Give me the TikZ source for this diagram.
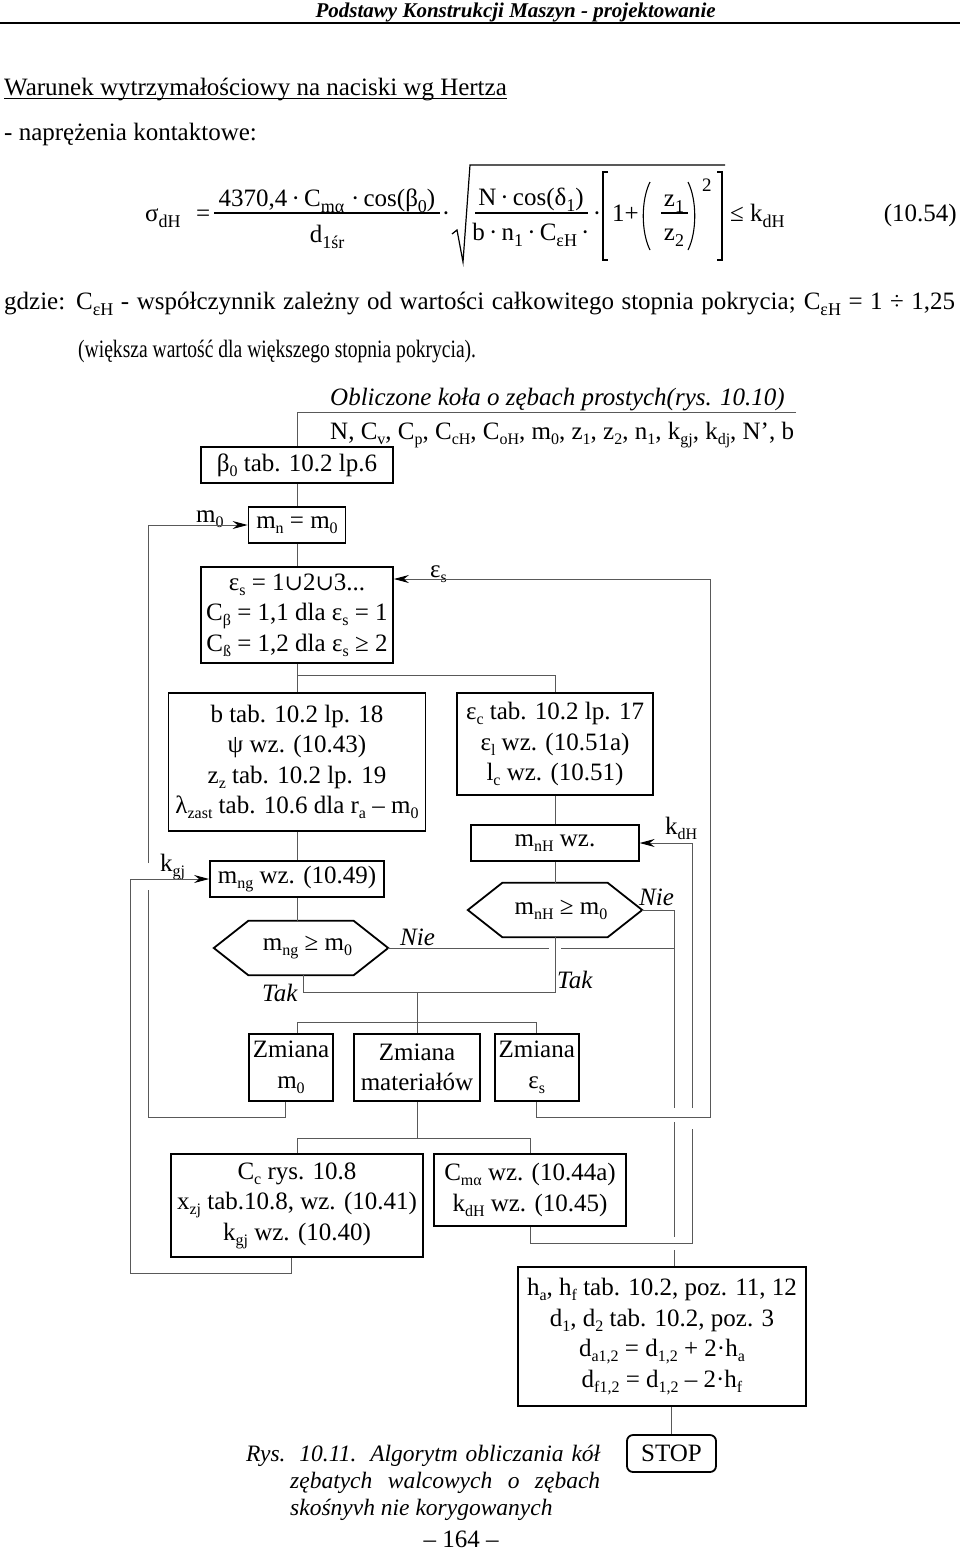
\documentclass[tikz,border=0pt]{standalone}
\usepackage{fontspec}
\setmainfont{Liberation Serif}
\newfontfamily\djv{DejaVu Serif}
\usetikzlibrary{arrows.meta,calc}
\newcommand\sbs[1]{\raisebox{-0.2em}{\fontsize{16}{16}\selectfont #1}}
\newcommand\fsb[1]{\raisebox{-0.25em}{\fontsize{18}{18}\selectfont #1}}
\newcommand\cupsym{{\djv\fontsize{22}{22}\selectfont ∪}}
\begin{document}
\begin{tikzpicture}[x=1pt,y=-1pt,
  every node/.style={inner sep=0pt, font=\fontsize{25}{30.5}\selectfont},
  box/.style={draw, line width=1.8pt, align=center},
  hexshape/.style={minimum width=174pt, minimum height=54pt, align=center},
  conn/.style={line width=1pt, draw=black!65},
  arr/.style={conn, -{Stealth[length=15pt,width=8pt,inset=5pt,color=black]}},
  hexline/.style={line width=1.8pt},
  lbl/.style={anchor=base west, font=\fontsize{25}{30.5}\selectfont\itshape},
  captxt/.style={anchor=base west, font=\fontsize{23.5}{28}\selectfont\itshape}]
\useasboundingbox (0,0) rectangle (960,1553);

% ---------- header ----------
\node[anchor=base east, font=\fontsize{21}{25}\selectfont\bfseries\itshape] (hdr) at (716,17) {Podstawy Konstrukcji Maszyn - projektowanie};
\draw[line width=1.6pt] (0,23) -- (960,23);
\node[anchor=base west] (war) at (4,95) {Warunek wytrzymałościowy na naciski wg Hertza};
\draw[line width=1.3pt] ([yshift=-3.5pt]war.base west) -- ([yshift=-3.5pt]war.base east);
\node[anchor=base west] (nap) at (4,140) {- naprężenia kontaktowe:};

% ---------- formula ----------
\node[anchor=base west] (sig) at (145,221) {σ\fsb{dH}};
\node[anchor=base west] (eq) at (196,221) {=};
\draw[line width=1.1pt] (214,213) -- (440,213);
\node[anchor=base] (num) at (327,206) {4370,4\,·\,C\fsb{mα}\;·\,cos(β\fsb{0})};
\node[anchor=base] (den) at (327,242) {d\fsb{1śr}};
\node[anchor=base] (dot1) at (446,221) {·};
\draw[line width=1.2pt] (452,234) -- (457,230) -- (463,262) -- (470,165) -- (725,165);
\draw[line width=1.1pt] (475,213) -- (588,213);
\node[anchor=base] (inum) at (531,205) {N\,·\,cos(δ\fsb{1})};
\node[anchor=base] (iden) at (531,240) {b\,·\,n\fsb{1}\,·\,C\fsb{εH}\,·};
\node[anchor=base] (dot2) at (597,221) {·};
\draw[line width=1.2pt] (608,172) -- (603,172) -- (603,260) -- (608,260);
\draw[line width=1.2pt] (717,172) -- (722,172) -- (722,260) -- (717,260);
\node[anchor=base west] (onep) at (612,221) {1+};
\draw[line width=1.1pt] (650,182) .. controls (641,200) and (641,232) .. (650,250);
\draw[line width=1.1pt] (688,182) .. controls (697,200) and (697,232) .. (688,250);
\draw[line width=1.1pt] (661,213) -- (688,213);
\node[anchor=base] (za) at (674,206) {z\fsb{1}};
\node[anchor=base] (zb) at (674,240) {z\fsb{2}};
\node[anchor=base west, font=\fontsize{19}{19}\selectfont] (sq) at (702,191) {2};
\node[anchor=base west] (le) at (730,221) {≤ k\fsb{dH}};
\node[anchor=base east] (eqn) at (957,221) {(10.54)};

\node[anchor=base west] (gdz) at (4,309) {\makebox[951pt][s]{gdzie: C\fsb{εH} - współczynnik zależny od wartości całkowitego stopnia pokrycia; C\fsb{εH} = 1 ÷ 1,25}};
\node[anchor=base west] (wie) at (78,357) {\scalebox{0.783}[1]{(większa wartość dla większego stopnia pokrycia).}};

% ---------- flowchart ----------
\node[anchor=base west, font=\fontsize{25}{30.5}\selectfont\itshape] (obl) at (330,405) {Obliczone koła o zębach prostych(rys. 10.10)};
\coordinate (topR) at (796,412);
\node[anchor=base west] (dane) at (330,439) {N, C\sbs{v}, C\sbs{p}, C\sbs{cH}, C\sbs{oH}, m\sbs{0}, z\sbs{1}, z\sbs{2}, n\sbs{1}, k\sbs{gj}, k\sbs{dj}, N’, b};

\node[box, minimum width=191.5pt, minimum height=36pt] (beta) at (297,465) {β\sbs{0} tab. 10.2 lp.6};
\node[box, minimum width=97pt, minimum height=36pt] (mn) at (297,525) {m\sbs{n} = m\sbs{0}};
\node[box, minimum width=192pt, minimum height=96pt] (eps) at (297,615) {ε\sbs{s} = 1\cupsym2\cupsym3...\\C\sbs{β} = 1,1 dla ε\sbs{s} = 1\\C\sbs{ß} = 1,2 dla ε\sbs{s} ≥ 2};
\node[box, minimum width=257pt, minimum height=138pt] (lbox) at (297,762) {b tab. 10.2 lp. 18\\ψ wz. (10.43)\\z\sbs{z} tab. 10.2 lp. 19\\λ\sbs{zast} tab. 10.6 dla r\sbs{a} – m\sbs{0}};
\node[box, minimum width=195.5pt, minimum height=102pt] (rbox) at (555,744) {ε\sbs{c} tab. 10.2 lp. 17\\ε\sbs{l} wz. (10.51a)\\l\sbs{c} wz. (10.51)};
\node[box, minimum width=174pt, minimum height=36pt] (mng) at (297,879) {m\sbs{ng} wz. (10.49)};
\node[hexshape] (hexg) at (301,948) {\hspace*{13pt}m\sbs{ng} ≥ m\sbs{0}};
\draw[hexline] (hexg.west) -- ([xshift=34.5pt]hexg.north west) -- ([xshift=-34.5pt]hexg.north east) -- (hexg.east) -- ([xshift=-34.5pt]hexg.south east) -- ([xshift=34.5pt]hexg.south west) -- cycle;
\node[box, minimum width=167.5pt, minimum height=36pt] (mnh) at (555,843) {m\sbs{nH} wz.};
\node[hexshape] (hexh) at (555,910) {\hspace*{12pt}m\sbs{nH} ≥ m\sbs{0}};
\draw[hexline] (hexh.west) -- ([xshift=34.5pt]hexh.north west) -- ([xshift=-34.5pt]hexh.north east) -- (hexh.east) -- ([xshift=-34.5pt]hexh.south east) -- ([xshift=34.5pt]hexh.south west) -- cycle;

\node[box, minimum width=84pt, minimum height=67pt] (z1) at (291,1067.5) {Zmiana\\m\sbs{0}};
\node[box, minimum width=126pt, minimum height=67pt] (z2) at (417,1067.5) {Zmiana\\materiałów};
\node[box, minimum width=84pt, minimum height=67pt] (z3) at (536.7,1067.5) {Zmiana\\ε\sbs{s}};
\node[box, minimum width=252pt, minimum height=103pt] (cc) at (297,1205.5) {C\sbs{c} rys. 10.8\\x\sbs{zj} tab.10.8, wz. (10.41)\\k\sbs{gj} wz. (10.40)};
\node[box, minimum width=191.5pt, minimum height=72pt] (cm) at (530,1190) {C\sbs{mα} wz. (10.44a)\\k\sbs{dH} wz. (10.45)};
\node[box, minimum width=288pt, minimum height=139pt] (ha) at (662,1336.5) {h\sbs{a}, h\sbs{f} tab. 10.2, poz. 11, 12\\d\sbs{1}, d\sbs{2} tab. 10.2, poz. 3\\d\sbs{a1,2} = d\sbs{1,2} + 2·h\sbs{a}\\d\sbs{f1,2} = d\sbs{1,2} – 2·h\sbs{f}};
\node[box, rounded corners=6pt, minimum width=89pt, minimum height=37pt] (stop) at (671.5,1453.5) {STOP};

% labels
\node[anchor=base west] (lm0) at (196,522) {m\sbs{0}};
\node[anchor=base west] (les) at (430,577) {ε\sbs{s}};
\node[anchor=base west] (lkg) at (160,871) {k\sbs{gj}};
\node[anchor=base west] (lkd) at (665,834) {k\sbs{dH}};
\node[lbl] (nie1) at (400,945) {Nie};
\node[lbl] (nie2) at (639,905) {Nie};
\node[lbl] (tak1) at (262,1001) {Tak};
\node[lbl] (tak2) at (557,988) {Tak};

% coordinates
\coordinate (tj) at (417,992);
\coordinate (zs) at (417,1022);
\coordinate (cj) at (417,1139);
\coordinate (L1) at (148,1117);
\coordinate (gapA) at (148,890);
\coordinate (gapB) at (148,863);
\coordinate (K1) at (130,1273);
\coordinate (E1) at (710,1117);
\coordinate (D1) at (692,1243);
\coordinate (D2) at (692,1129);
\coordinate (D3) at (692,1108);
\coordinate (N1) at (674,910);
\coordinate (N2) at (674,1108);
\coordinate (N3) at (674,1122);
\coordinate (N4) at (674,1237);
\coordinate (N5) at (674,1250);
\coordinate (G1) at (549,948);
\coordinate (G2) at (561,948);
\coordinate (G3) at (674,948);

% connectors
\draw[conn] (topR) -| (beta.north);
\draw[conn] (beta.south) -- (mn.north);
\draw[conn] (mn.south) -- (eps.north);
\draw[conn] (eps.south) -- (lbox.north);
\draw[conn] (eps.south) ++(0,12) -| (rbox.north);
\draw[conn] (lbox.south) -- (mng.north);
\draw[conn] (mng.south) -- (mng.south |- hexg.north);
\draw[conn] ([xshift=2pt]hexg.south) |- (tj);
\draw[conn] (hexh.south) |- (tj);
\draw[conn] (tj) -- (z2.north);
\draw[conn] ([xshift=6pt]z1.north) |- (zs) -| (z3.north);
\draw[conn] ([xshift=-6pt]z1.south) |- (L1) -- (gapA);
\draw[arr] (gapB) |- (mn.west);
\draw[conn] (z2.south) -- (cj);
\draw[conn] (cc.north) -- ++(0,-15) -| (cm.north);
\draw[arr] ([xshift=-6pt]cc.south) |- (K1) |- (mng.west);
\draw[arr] (z3.south) |- (E1) |- ([yshift=36pt]eps.east);
\draw[conn] (rbox.south) -- (mnh.north);
\draw[conn] (mnh.south) -- (hexh.north);
\draw[conn] (cm.south) |- (D1) -- (D2);
\draw[arr] (D3) |- (mnh.east);
\draw[conn] (hexh.east) -- (N1) -- (N2);
\draw[conn] (N3) -- (N4);
\draw[conn] (N5) -- (ha.north -| N1);
\draw[conn] (hexg.east) -- (G1);
\draw[conn] (G2) -- (G3);
\draw[conn] (ha.south -| stop.north) -- (stop.north);

% caption
\node[captxt] (cap1) at (246,1461) {\makebox[354pt][s]{Rys. 10.11. Algorytm obliczania kół}};
\node[captxt] (cap2) at (290,1488) {\makebox[310pt][s]{zębatych walcowych o zębach}};
\node[captxt] (cap3) at (290,1515) {skośnyvh nie korygowanych};
\node[anchor=base] (page) at (461,1547) {– 164 –};
\end{tikzpicture}
\end{document}
